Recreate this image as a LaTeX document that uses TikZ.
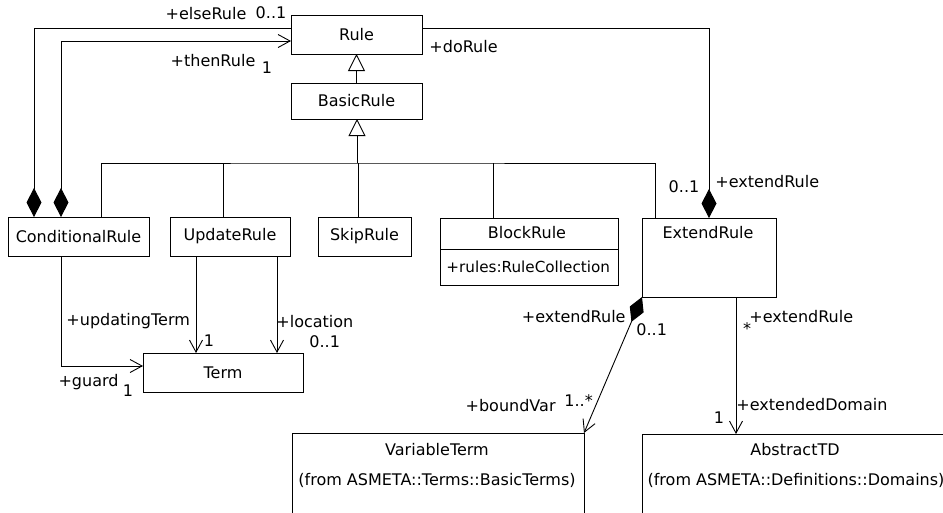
\documentclass[tikz,border=0pt]{standalone}
\usepackage{fontspec}
\setmainfont{DejaVu Sans}
\usetikzlibrary{arrows.meta,calc}
\begin{document}
\begin{tikzpicture}[x=1pt,y=-1pt,line width=0.9pt,
  font=\fontsize{16}{19}\selectfont,
  box/.style={draw,anchor=north west,inner sep=0pt,outer sep=0pt},
  lbl/.style={inner sep=0pt,text height=11.5pt,text depth=3pt},
  gen/.style={-{Triangle[open,length=17pt,width=17pt]}},
  nav/.style={-{Straight Barb[length=12pt,width=13pt]}},
  comp/.style={{Diamond[length=29pt,width=15pt]}-},
  compnav/.style={{Diamond[length=29pt,width=15pt]}-{Straight Barb[length=12pt,width=13pt]}}]
\useasboundingbox (0,0) rectangle (943,512);

% classes
\node[box,minimum width=131pt,minimum height=39pt] (rule) at (291,15) {Rule};
\node[box,minimum width=131pt,minimum height=36pt] (basic) at (291,83) {BasicRule};
\node[box,minimum width=141pt,minimum height=39pt] (cond) at (8,217) {ConditionalRule};
\node[box,minimum width=120pt,minimum height=39pt] (upd) at (170,217) {UpdateRule};
\node[box,minimum width=93pt,minimum height=39pt] (skip) at (318,217) {SkipRule};
\node[box,minimum width=178pt,minimum height=67pt] (block) at (440,218) {};
\node[box,minimum width=134pt,minimum height=79pt] (ext) at (642,218) {};
\node[box,minimum width=160pt,minimum height=39pt] (term) at (143,353) {Term};
\node[box,minimum width=292pt,minimum height=100pt] (var) at (292,433) {};
\node[box,minimum width=306pt,minimum height=100pt] (abs) at (642,434) {};

\draw ($(block.north west)+(0,31)$) -- ($(block.north east)+(0,31)$);
\node[lbl] (blockname) at (527,234) {BlockRule};
\node[lbl,anchor=west,font=\fontsize{15.2}{18}\selectfont] (blockattr) at (446,268) {+rules:RuleCollection};
\node[lbl] (extname) at (708,234) {ExtendRule};
\node[lbl] (varname) at (437,451) {VariableTerm};
\node[lbl] (varfrom) at (437,481) {(from ASMETA::Terms::BasicTerms)};
\node[lbl] (absname) at (795,451) {AbstractTD};
\node[lbl] (absfrom) at (796,481) {(from ASMETA::Definitions::Domains)};

% generalizations
\draw[gen] (basic.north) -- (rule.south);
\coordinate (bus) at (357,163);
\draw[gen] (bus) -- (bus |- basic.south);
\draw ($(cond.north west)+(93,0)$) |- (bus) -| ($(ext.north west)+(13,0)$);
\draw ($(upd.north west)+(53,0)$) coordinate (u0) -- (u0 |- bus);
\draw ($(skip.north west)+(40,0)$) coordinate (s0) -- (s0 |- bus);
\draw ($(block.north west)+(53,0)$) coordinate (b0) -- (b0 |- bus);

% associations
\draw[comp] ($(cond.north west)+(26,0)$) |- ($(rule.north west)+(0,13)$);
\draw[compnav] ($(cond.north west)+(53,0)$) |- ($(rule.north west)+(0,26)$);
\draw[comp] (ext.north) |- ($(rule.north east)+(0,13)$);
\draw[nav] ($(cond.south west)+(53,0)$) |- ($(term.north west)+(0,13)$);
\draw[nav] ($(upd.south west)+(26,0)$) coordinate (u1) -- (u1 |- term.north);
\draw[nav] ($(upd.south west)+(107,0)$) coordinate (u2) -- (u2 |- term.north);
\draw[{Diamond[length=27pt,width=15pt]}-{Straight Barb[length=12pt,width=13pt]}] (ext.south west) -- (var.north east);
\draw[nav] ($(ext.south west)+(94,0)$) coordinate (e1) -- (e1 |- abs.north);

% role labels and multiplicities
\node[lbl] (l1) at (206,15) {+elseRule};
\node[lbl] (l2) at (271,14) {0..1};
\node[lbl] (l3) at (213,62) {+thenRule};
\node[lbl] (l4) at (267,69) {1};
\node[lbl,anchor=west] (l5) at (429,48) {+doRule};
\node[lbl] (l6) at (684,188) {0..1};
\node[lbl,anchor=west] (l7) at (715,183) {+extendRule};
\node[lbl,anchor=west] (l8) at (66,321) {+updatingTerm};
\node[lbl,anchor=east] (l9) at (119,382) {+guard};
\node[lbl] (l10) at (128,392) {1};
\node[lbl] (l11) at (209,342) {1};
\node[lbl,anchor=west] (l12) at (276,323) {+location};
\node[lbl,anchor=west] (l13) at (309,343) {0..1};
\node[lbl,anchor=east] (l14) at (626,318) {+extendRule};
\node[lbl,anchor=west] (l15) at (636,331) {0..1};
\node[lbl] (l16) at (747,330) {*};
\node[lbl,anchor=west] (l17) at (749,318) {+extendRule};
\node[lbl,anchor=west] (l18) at (564,402) {1..*};
\node[lbl,anchor=east] (l19) at (556,407) {+boundVar};
\node[lbl,anchor=west] (l20) at (736,406) {+extendedDomain};
\node[lbl] (l21) at (719,419) {1};
\end{tikzpicture}
\end{document}
